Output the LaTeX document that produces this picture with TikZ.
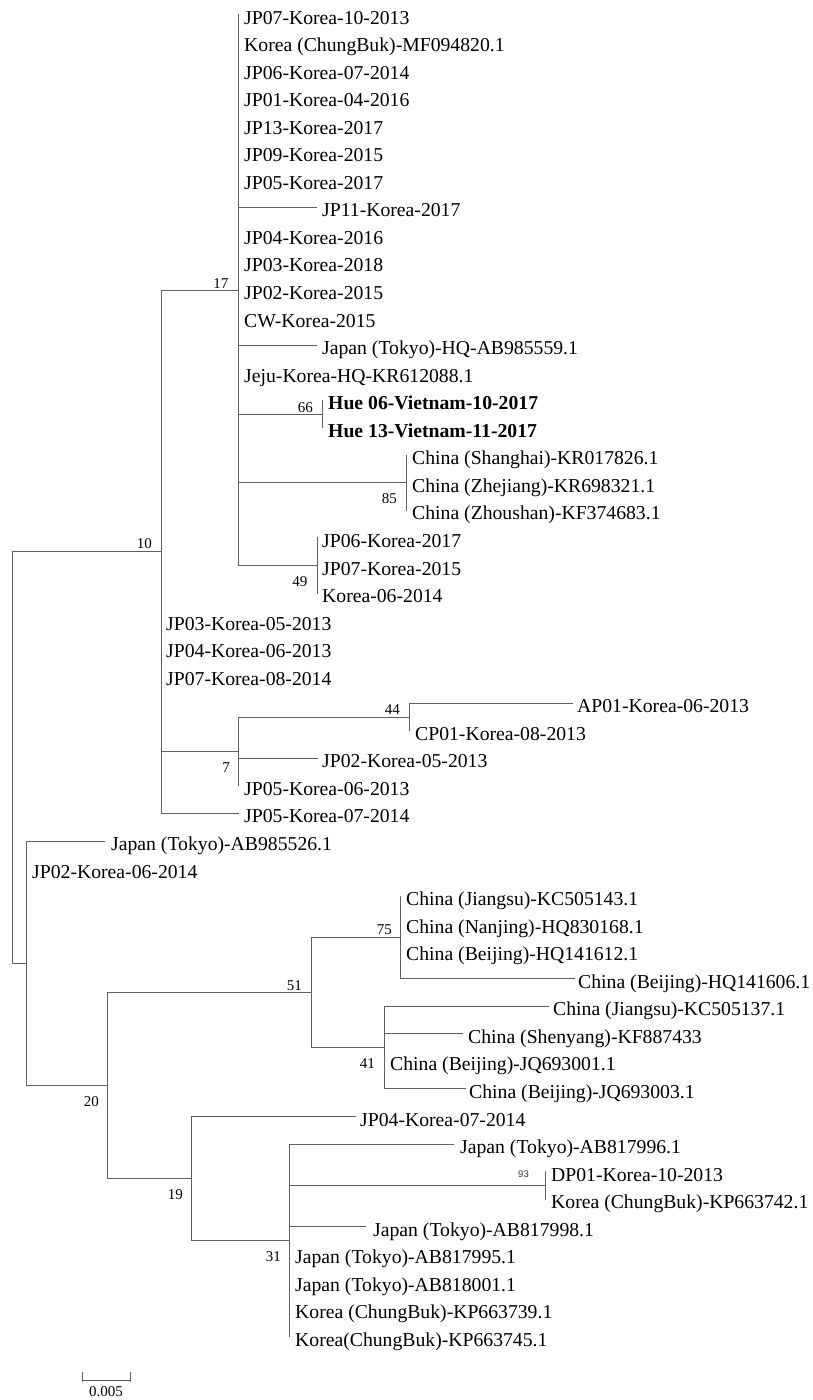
\documentclass[tikz,border=0pt]{standalone}
\usepackage{fontspec}
\setmainfont{Liberation Serif}
\newfontfamily\smallsansfont{Liberation Sans}
\usetikzlibrary{calc}
\newcommand{\RowY}[1]{14.5+(#1-1)*27.55}
% \lf[style]{name}{tip x}{row}{label x}{text}
\newcommand{\lf}[6][leaf]{%
  \coordinate (#2) at (#3,{\RowY{#4}});
  \node[#1] (#2t) at (#5,{\RowY{#4}+9.5}) {#6};}
% vertical bar of a clade: parent, first child, last child
\newcommand{\cladebar}[3]{\draw[br] (#1 |- #2) -- (#1 |- #3);}
\tikzset{
  br/.style={line width=1pt, draw=black!62, line cap=rect},
  leaf/.style={anchor=base west, inner sep=0pt, text=black, font=\fontsize{19.7}{22}\selectfont},
  boldleaf/.style={leaf, font=\fontsize{19.7}{22}\selectfont\bfseries},
  bsabove/.style={anchor=base east, inner sep=0pt, font=\fontsize{15}{17}\selectfont},
  bsbelow/.style={anchor=base east, inner sep=0pt, font=\fontsize{15}{17}\selectfont},
  bssmall/.style={anchor=base east, inner sep=0pt, text=black!80, font=\smallsansfont\fontsize{9.5}{11}\selectfont},
  scalelbl/.style={anchor=base, inner sep=0pt, font=\fontsize{15}{17}\selectfont}
}
\begin{document}
\begin{tikzpicture}[x=1pt,y=-1pt]
\useasboundingbox[fill=white] (0,0) rectangle (812,1400);

% internal nodes
\coordinate (root) at (12,757.5);
\coordinate (n10) at (161,551.7);
\coordinate (n17) at (238,290);
\coordinate (n66) at (322,414);
\coordinate (n85) at (406,482.85);
\coordinate (n49) at (317,565.5);
\coordinate (n7) at (238,751.5);
\coordinate (n44) at (409,717);
\coordinate (nB) at (26,963.25);
\coordinate (n20) at (107,1085.5);
\coordinate (n51) at (311,992.5);
\coordinate (n75) at (400,937.4);
\coordinate (n41) at (384,1047.6);
\coordinate (n19) at (191,1178.5);
\coordinate (n31) at (289,1240.5);
\coordinate (n93) at (545,1185.4);

% leaves
\lf{l1}{238}{1}{244}{JP07-Korea-10-2013}
\lf{l2}{238}{2}{244}{Korea (ChungBuk)-MF094820.1}
\lf{l3}{238}{3}{244}{JP06-Korea-07-2014}
\lf{l4}{238}{4}{244}{JP01-Korea-04-2016}
\lf{l5}{238}{5}{244}{JP13-Korea-2017}
\lf{l6}{238}{6}{244}{JP09-Korea-2015}
\lf{l7}{238}{7}{244}{JP05-Korea-2017}
\lf{l8}{316}{8}{322}{JP11-Korea-2017}
\lf{l9}{238}{9}{244}{JP04-Korea-2016}
\lf{l10}{238}{10}{244}{JP03-Korea-2018}
\lf{l11}{238}{11}{244}{JP02-Korea-2015}
\lf{l12}{238}{12}{244}{CW-Korea-2015}
\lf{l13}{316}{13}{322}{Japan (Tokyo)-HQ-AB985559.1}
\lf{l14}{238}{14}{244}{Jeju-Korea-HQ-KR612088.1}
\lf[boldleaf]{l15}{322}{15}{328}{Hue 06-Vietnam-10-2017}
\lf[boldleaf]{l16}{322}{16}{328}{Hue 13-Vietnam-11-2017}
\lf{l17}{406}{17}{412}{China (Shanghai)-KR017826.1}
\lf{l18}{406}{18}{412}{China (Zhejiang)-KR698321.1}
\lf{l19}{406}{19}{412}{China (Zhoushan)-KF374683.1}
\lf{l20}{317}{20}{322}{JP06-Korea-2017}
\lf{l21}{317}{21}{322}{JP07-Korea-2015}
\lf{l22}{317}{22}{322}{Korea-06-2014}
\lf{l23}{161}{23}{166}{JP03-Korea-05-2013}
\lf{l24}{161}{24}{166}{JP04-Korea-06-2013}
\lf{l25}{161}{25}{166}{JP07-Korea-08-2014}
\lf{l26}{572}{26}{577}{AP01-Korea-06-2013}
\lf{l27}{409}{27}{415}{CP01-Korea-08-2013}
\lf{l28}{317}{28}{322}{JP02-Korea-05-2013}
\lf{l29}{238}{29}{244}{JP05-Korea-06-2013}
\lf{l30}{238}{30}{244}{JP05-Korea-07-2014}
\lf{l31}{104}{31}{111}{Japan (Tokyo)-AB985526.1}
\lf{l32}{26}{32}{32}{JP02-Korea-06-2014}
\lf{l33}{400}{33}{406}{China (Jiangsu)-KC505143.1}
\lf{l34}{400}{34}{406}{China (Nanjing)-HQ830168.1}
\lf{l35}{400}{35}{406}{China (Beijing)-HQ141612.1}
\lf{l36}{574}{36}{578}{China (Beijing)-HQ141606.1}
\lf{l37}{548}{37}{553}{China (Jiangsu)-KC505137.1}
\lf{l38}{462}{38}{468}{China (Shenyang)-KF887433}
\lf{l39}{384}{39}{390}{China (Beijing)-JQ693001.1}
\lf{l40}{465}{40}{469}{China (Beijing)-JQ693003.1}
\lf{l41}{355}{41}{360}{JP04-Korea-07-2014}
\lf{l42}{453}{42}{460}{Japan (Tokyo)-AB817996.1}
\lf{l43}{545}{43}{551}{DP01-Korea-10-2013}
\lf{l44}{545}{44}{551}{Korea (ChungBuk)-KP663742.1}
\lf{l45}{365}{45}{373}{Japan (Tokyo)-AB817998.1}
\lf{l46}{289}{46}{295}{Japan (Tokyo)-AB817995.1}
\lf{l47}{289}{47}{295}{Japan (Tokyo)-AB818001.1}
\lf{l48}{289}{48}{295}{Korea (ChungBuk)-KP663739.1}
\lf{l49}{289}{49}{295}{Korea(ChungBuk)-KP663745.1}

% vertical bars (each drawn once)
\cladebar{root}{n10}{nB}
\cladebar{n10}{n17}{l30}
\cladebar{n17}{l1}{n49}
\cladebar{n66}{l15}{l16}
\cladebar{n85}{l17}{l19}
\cladebar{n49}{l20}{l22}
\cladebar{n7}{n44}{l29}
\cladebar{n44}{l26}{l27}
\cladebar{nB}{l31}{n20}
\cladebar{n20}{n51}{n19}
\cladebar{n51}{n75}{n41}
\cladebar{n75}{l33}{l36}
\cladebar{n41}{l37}{l40}
\cladebar{n19}{l41}{n31}
\cladebar{n31}{l42}{l49}
\cladebar{n93}{l43}{l44}

% horizontal branches (non-zero length)
\foreach \p/\c in {root/n10, root/nB,
    n10/n17, n10/n7, n10/l30,
    n17/l8, n17/l13, n17/n66, n17/n85, n17/n49,
    n7/n44, n7/l28, n44/l26,
    nB/l31, nB/n20, n20/n51, n20/n19,
    n51/n75, n51/n41, n75/l36,
    n41/l37, n41/l38, n41/l40,
    n19/l41, n19/n31,
    n31/l42, n31/n93, n31/l45}
  \draw[br] (\p |- \c) -- (\c);

% bootstrap values
\node[bsabove] (b17) at ($(n17)+(-9.5,-2)$) {17};
\node[bsabove] (b10) at ($(n10)+(-9,-3)$) {10};
\node[bsabove] (b66) at ($(n66)+(-9,-2)$) {66};
\node[bsbelow] (b85) at ($(n85)+(-9,20.5)$) {85};
\node[bsbelow] (b49) at ($(n49)+(-9.5,20.5)$) {49};
\node[bsabove] (b44) at ($(n44)+(-9,-3)$) {44};
\node[bsbelow] (b7) at ($(n7)+(-8,20.5)$) {7};
\node[bsabove] (b75) at ($(n75)+(-8,-2.5)$) {75};
\node[bsabove] (b51) at ($(n51)+(-9,-2.5)$) {51};
\node[bsbelow] (b41) at ($(n41)+(-9,20.5)$) {41};
\node[bsbelow] (b20) at ($(n20)+(-8,20.5)$) {20};
\node[bsbelow] (b19) at ($(n19)+(-8,20.5)$) {19};
\node[bsbelow] (b31) at ($(n31)+(-8,21)$) {31};
\node[bssmall] (b93) at ($(n93)+(-16,-8)$) {93};

% scale bar
\coordinate (sbA) at (82,1380);
\coordinate (sbB) at (130,1380);
\draw[br, line cap=butt] (sbA) -- (sbB);
\draw[br, line cap=butt] ($(sbA)+(0,-8)$) -- ($(sbA)+(0,2)$);
\draw[br, line cap=butt] ($(sbB)+(0,-8)$) -- ($(sbB)+(0,2)$);
\node[scalelbl] (sbl) at ($(sbA)!0.5!(sbB)+(0,16.5)$) {0.005};
\end{tikzpicture}
\end{document}
